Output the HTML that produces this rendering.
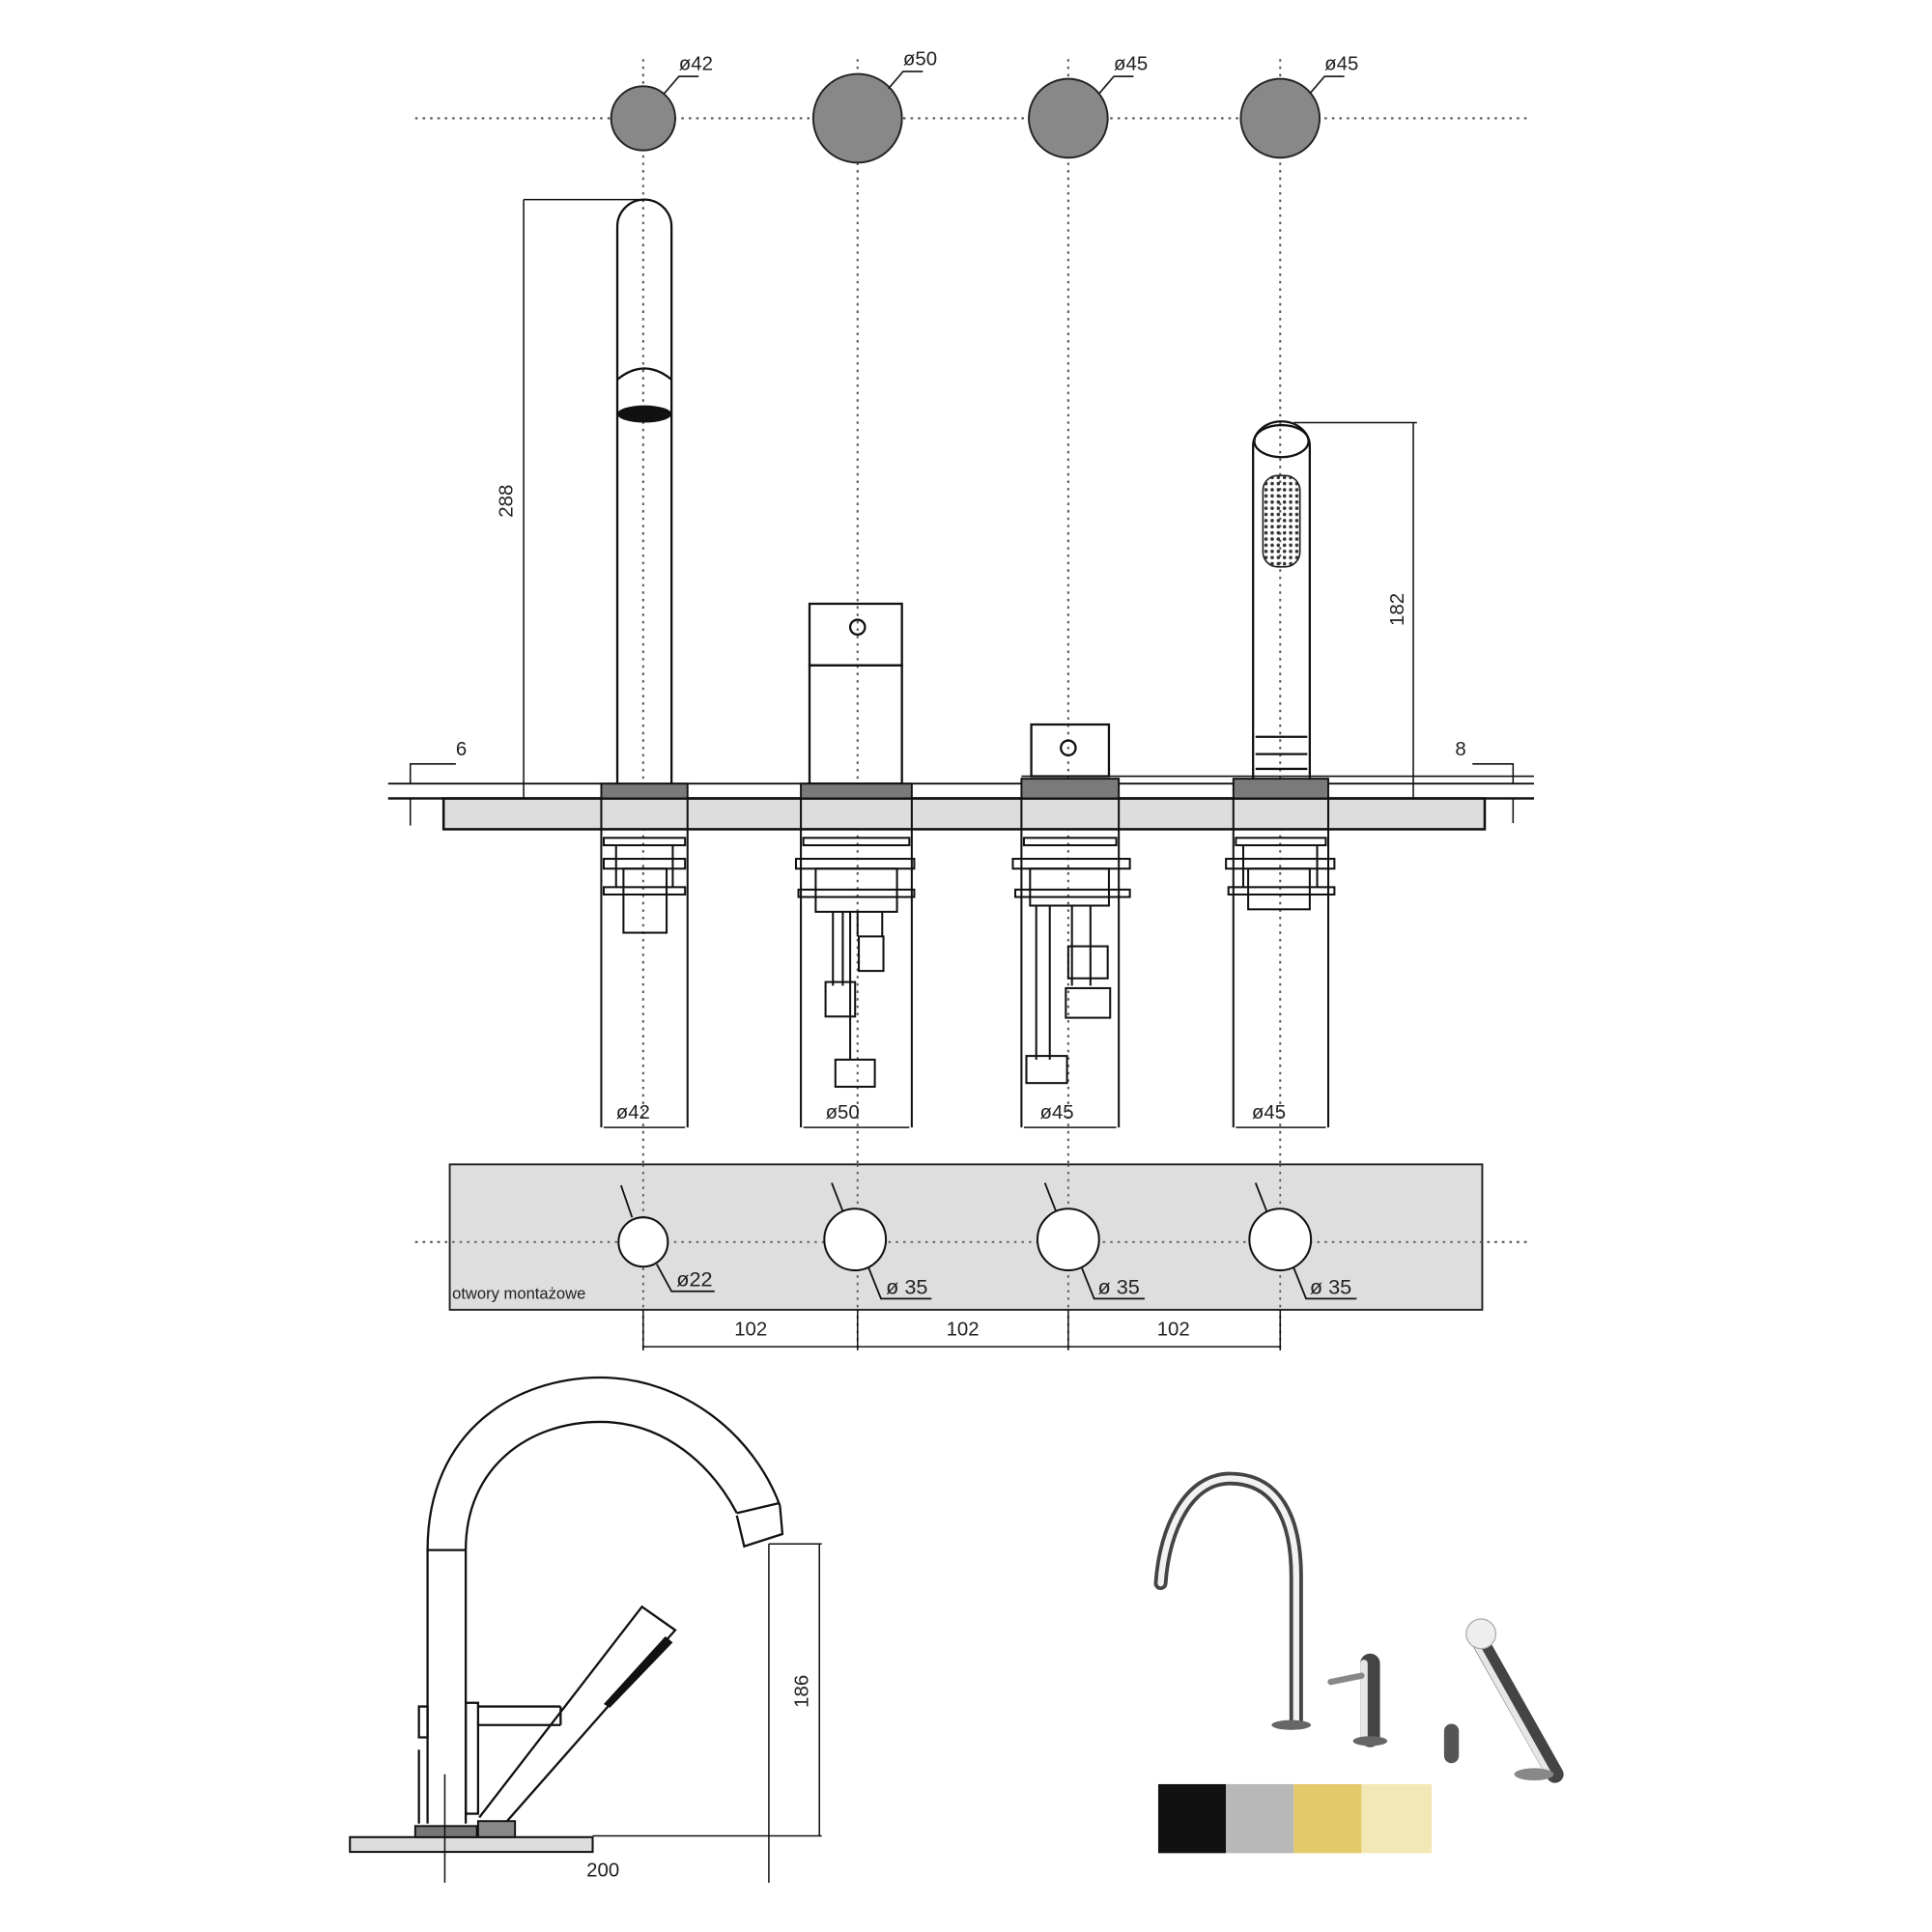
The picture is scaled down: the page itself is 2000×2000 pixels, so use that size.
<!DOCTYPE html>
<html><head><meta charset="utf-8"><style>
html,body{margin:0;padding:0;background:#fff}
svg{display:block}
text{font-family:"Liberation Sans",sans-serif;fill:#222}
</style></head><body>
<svg width="2000" height="2000" viewBox="0 0 1568 1568" xmlns="http://www.w3.org/2000/svg">
<defs>
<pattern id="dots" width="5" height="5" patternUnits="userSpaceOnUse"><circle cx="2.5" cy="2.5" r="1.4" fill="#333"/></pattern>
</defs>
<g fill="none" stroke="#555" stroke-width="1.6" stroke-dasharray="2 4">
<line x1="337" y1="96" x2="1240" y2="96"/>
<line x1="337" y1="1008" x2="1240" y2="1008"/>
<line x1="522" y1="48" x2="522" y2="1095"/>
<line x1="696" y1="48" x2="696" y2="1095"/>
<line x1="867" y1="48" x2="867" y2="1095"/>
<line x1="1039" y1="48" x2="1039" y2="1095"/>
</g>
<g fill="#888" stroke="#222" stroke-width="1.5">
<circle cx="522" cy="96" r="26"/><circle cx="696" cy="96" r="36"/>
<circle cx="867" cy="96" r="32"/><circle cx="1039" cy="96" r="32"/>
</g>
<g stroke="#222" stroke-width="1.4" fill="none">
<polyline points="567,62 551,62 539,76"/>
<polyline points="749,58 733,58 721,72"/>
<polyline points="920,62 904,62 892,76"/>
<polyline points="1091,62 1075,62 1063,76"/>
</g>
<g font-size="16"><text x="551" y="57">ø42</text><text x="733" y="53">ø50</text><text x="904" y="57">ø45</text><text x="1075" y="57">ø45</text></g>

<g stroke="#111" stroke-width="1.8" fill="none">
<path d="M501,636 V184 A22,22 0 0 1 545,184 V636"/>
<path d="M501,308 Q523,290 545,308"/>
<line x1="425" y1="162" x2="425" y2="648" stroke-width="1.2"/>
<line x1="425" y1="162" x2="520" y2="162" stroke-width="1.2"/>
<rect x="657" y="490" width="75" height="50"/>
<circle cx="696" cy="509" r="6"/>
<rect x="657" y="540" width="75" height="96"/>
<rect x="837" y="588" width="63" height="42"/>
<circle cx="867" cy="607" r="6"/>
<line x1="829" y1="630" x2="1245" y2="630" stroke-width="1.2"/>
<path d="M1017,632 V362 A23,20 0 0 1 1063,362 V632"/>
<ellipse cx="1040" cy="358" rx="22" ry="13"/>
<path d="M1019,598 H1061 M1019,612 H1061 M1019,624 H1061"/>
<line x1="1147" y1="343" x2="1147" y2="648" stroke-width="1.2"/>
<line x1="1050" y1="343" x2="1150" y2="343" stroke-width="1.2"/>
</g>
<ellipse cx="523" cy="336" rx="22" ry="7" fill="#111"/>
<rect x="1025" y="386" width="30" height="74" rx="12" fill="url(#dots)" stroke="#222" stroke-width="1.3"/>
<text font-size="16" transform="translate(416,420) rotate(-90)">288</text>
<text font-size="16" transform="translate(1139,508) rotate(-90)">182</text>

<rect x="360" y="648" width="845" height="25" fill="#ddd" stroke="#111" stroke-width="2"/>
<line x1="315" y1="636" x2="1245" y2="636" stroke="#111" stroke-width="1.5"/>
<line x1="315" y1="648" x2="1245" y2="648" stroke="#111" stroke-width="2"/>
<g fill="#7a7a7a" stroke="#111" stroke-width="1.5">
<rect x="488" y="636" width="70" height="12"/><rect x="650" y="636" width="90" height="12"/>
<rect x="829" y="632" width="79" height="16"/><rect x="1001" y="632" width="77" height="16"/>
</g>
<g fill="none" stroke="#111" stroke-width="1.6">
<rect x="488" y="648" width="70" height="25"/><rect x="650" y="648" width="90" height="25"/>
<rect x="829" y="648" width="79" height="25"/><rect x="1001" y="648" width="77" height="25"/>
<path d="M488,673 V915 M558,673 V915 M650,673 V915 M740,673 V915 M829,673 V915 M908,673 V915 M1001,673 V915 M1078,673 V915"/>
<path d="M490,915 H556 M652,915 H738 M831,915 H906 M1003,915 H1076" stroke-width="1.2"/>
<rect x="490" y="680" width="66" height="6"/><rect x="490" y="697" width="66" height="8"/><rect x="490" y="720" width="66" height="6"/>
<rect x="506" y="705" width="35" height="52"/>
<line x1="500" y1="686" x2="500" y2="720"/><line x1="546" y1="686" x2="546" y2="720"/>
<rect x="652" y="680" width="86" height="6"/><rect x="646" y="697" width="96" height="8"/><rect x="648" y="722" width="94" height="6"/>
<rect x="662" y="705" width="66" height="35"/>
<path d="M676,740 V800 M684,740 V800 M690,740 V860 M696,740 V760 M716,740 V760"/>
<rect x="697" y="760" width="20" height="28"/><rect x="670" y="797" width="24" height="28"/>
<rect x="678" y="860" width="32" height="22"/>
<rect x="831" y="680" width="75" height="6"/><rect x="822" y="697" width="95" height="8"/><rect x="824" y="722" width="93" height="6"/>
<rect x="836" y="705" width="64" height="30"/>
<path d="M841,735 V860 M852,735 V860 M870,735 V800 M885,735 V800"/>
<rect x="867" y="768" width="32" height="26"/><rect x="865" y="802" width="36" height="24"/>
<rect x="833" y="857" width="33" height="22"/>
<rect x="1003" y="680" width="73" height="6"/><rect x="995" y="697" width="88" height="8"/><rect x="997" y="720" width="86" height="6"/>
<rect x="1013" y="705" width="50" height="33"/>
<line x1="1009" y1="686" x2="1009" y2="720"/><line x1="1069" y1="686" x2="1069" y2="720"/>
</g>
<g font-size="16"><text x="500" y="908">ø42</text><text x="670" y="908">ø50</text><text x="844" y="908">ø45</text><text x="1016" y="908">ø45</text></g>
<g stroke="#111" stroke-width="1.2" fill="none">
<polyline points="370,620 333,620 333,636"/><line x1="333" y1="648" x2="333" y2="670"/>
<polyline points="1195,620 1228,620 1228,636"/><line x1="1228" y1="648" x2="1228" y2="668"/>
</g>
<text x="370" y="613" font-size="16">6</text><text x="1181" y="613" font-size="16">8</text>

<rect x="365" y="945" width="838" height="118" fill="#dedede" stroke="#222" stroke-width="1.5"/>
<g stroke="#555" stroke-width="1.4" stroke-dasharray="2 4"><line x1="337" y1="1008" x2="1240" y2="1008"/><line x1="522" y1="945" x2="522" y2="1063"/><line x1="696" y1="945" x2="696" y2="1063"/><line x1="867" y1="945" x2="867" y2="1063"/><line x1="1039" y1="945" x2="1039" y2="1063"/></g>
<g fill="#fff" stroke="#111" stroke-width="1.6">
<circle cx="522" cy="1008" r="20"/><circle cx="694" cy="1006" r="25"/><circle cx="867" cy="1006" r="25"/><circle cx="1039" cy="1006" r="25"/>
</g>
<g stroke="#111" stroke-width="1.4" fill="none">
<line x1="504" y1="962" x2="513" y2="988"/><polyline points="533,1026 545,1048 580,1048"/>
<line x1="675" y1="960" x2="684" y2="983"/><polyline points="705,1029 715,1054 756,1054"/>
<line x1="848" y1="960" x2="857" y2="983"/><polyline points="878,1029 888,1054 929,1054"/>
<line x1="1019" y1="960" x2="1028" y2="983"/><polyline points="1050,1029 1060,1054 1101,1054"/>
</g>
<g font-size="17"><text x="549" y="1044">ø22</text><text x="719" y="1050">ø 35</text><text x="891" y="1050">ø 35</text><text x="1063" y="1050">ø 35</text></g>
<text x="367" y="1054" font-size="13">otwory montażowe</text>
<g stroke="#111" stroke-width="1.2"><line x1="522" y1="1093" x2="1039" y2="1093"/>
<line x1="522" y1="1063" x2="522" y2="1096"/><line x1="696" y1="1063" x2="696" y2="1096"/><line x1="867" y1="1063" x2="867" y2="1096"/><line x1="1039" y1="1063" x2="1039" y2="1096"/></g>
<g font-size="16"><text x="596" y="1084">102</text><text x="768" y="1084">102</text><text x="939" y="1084">102</text></g>

<g stroke="#111" stroke-width="1.8" fill="none">
<path d="M347,1480 V1258 C347,1160 420,1118 487,1118 C555,1118 612,1165 633,1222"/>
<path d="M378,1480 V1258 C378,1190 430,1154 487,1154 C540,1154 578,1190 598,1228"/>
<path d="M598,1228 L632,1220 M633,1222 L635,1245 L604,1255 L598,1230"/>
<line x1="347" y1="1258" x2="378" y2="1258"/>
<path d="M389,1475 L521,1304 L548,1323 L408,1482"/>
<line x1="388" y1="1385" x2="455" y2="1385"/><line x1="388" y1="1400" x2="455" y2="1400"/><line x1="455" y1="1385" x2="455" y2="1400"/>
<rect x="378" y="1382" width="10" height="90"/>
<path d="M340,1385 H347 V1410 H340 Z M340,1420 V1480"/>
</g>
<path d="M490,1383 L540,1328 L546,1333 L495,1386 Z" fill="#111"/>
<rect x="284" y="1491" width="197" height="12" fill="#ddd" stroke="#111" stroke-width="1.6"/>
<rect x="337" y="1482" width="50" height="9" fill="#777" stroke="#111" stroke-width="1.5"/>
<rect x="388" y="1478" width="30" height="13" fill="#888" stroke="#111" stroke-width="1.5"/>
<g stroke="#111" stroke-width="1.2">
<line x1="361" y1="1440" x2="361" y2="1528"/>
<line x1="624" y1="1253" x2="624" y2="1528"/>
<line x1="624" y1="1253" x2="667" y2="1253"/>
<line x1="665" y1="1253" x2="665" y2="1490"/>
<line x1="481" y1="1490" x2="667" y2="1490"/>
</g>
<text x="476" y="1523" font-size="16">200</text>
<text font-size="16" transform="translate(656,1386) rotate(-90)">186</text>

<g fill="none" stroke-linecap="round">
<path d="M942,1285 C945,1240 965,1200 998,1200 C1035,1200 1052,1230 1052,1280 V1398" stroke="#444" stroke-width="11"/>
<path d="M942,1285 C945,1240 965,1200 998,1200 C1035,1200 1052,1230 1052,1280 V1398" stroke="#f2f2f2" stroke-width="5"/>
<path d="M1112,1350 V1410" stroke="#444" stroke-width="16"/>
<path d="M1107,1350 V1410" stroke="#e6e6e6" stroke-width="6"/>
<path d="M1080,1365 L1105,1360" stroke="#888" stroke-width="5"/>
<path d="M1178,1405 V1425" stroke="#555" stroke-width="12"/>
<path d="M1200,1330 L1262,1440" stroke="#444" stroke-width="14"/>
<path d="M1197,1333 L1257,1440" stroke="#e6e6e6" stroke-width="5"/>
</g>
<ellipse cx="1048" cy="1400" rx="16" ry="4" fill="#666"/>
<ellipse cx="1112" cy="1413" rx="14" ry="4" fill="#666"/>
<circle cx="1202" cy="1326" r="12" fill="#eee" stroke="#aaa"/>
<ellipse cx="1245" cy="1440" rx="16" ry="5" fill="#888"/>
<rect x="940" y="1448" width="55" height="56" fill="#111"/>
<rect x="995" y="1448" width="55" height="56" fill="#b8b8b8"/>
<rect x="1050" y="1448" width="55" height="56" fill="#e3c96a"/>
<rect x="1105" y="1448" width="57" height="56" fill="#f4e7b6"/>
</svg>
</body></html>
